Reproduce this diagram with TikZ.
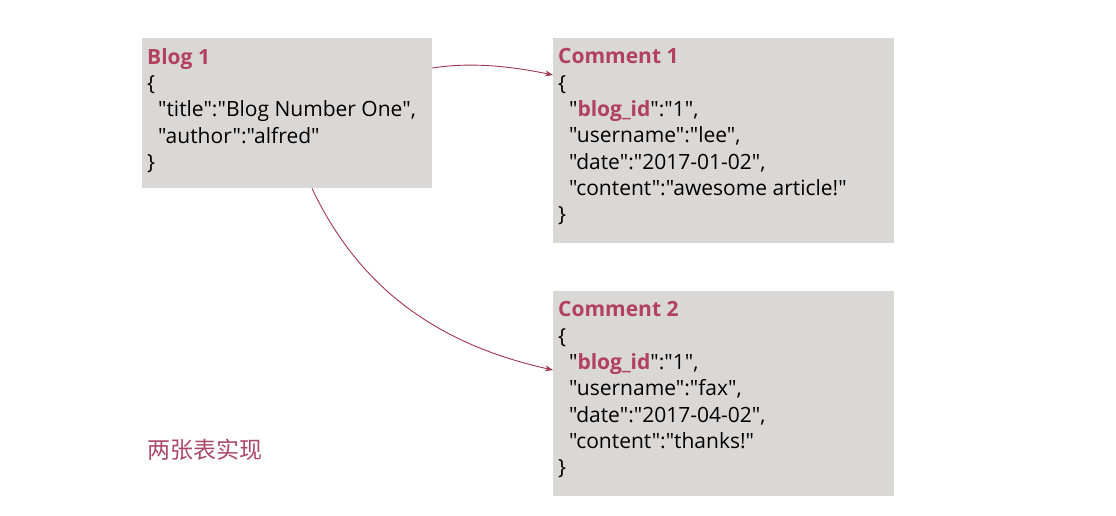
\documentclass[tikz,border=0pt]{standalone}
\usepackage{fontspec}
\setmainfont{Open Sans}[Ligatures=TeXOff]
\newfontfamily\cjk{Noto Sans CJK SC}
\usetikzlibrary{arrows.meta,calc}
\definecolor{boxgray}{HTML}{D9D8D6}
\definecolor{titlered}{HTML}{B2405F}
\definecolor{arrowred}{HTML}{A33650}
\definecolor{cjkred}{HTML}{AA4866}
\newcommand{\hl}[1]{\textbf{\textcolor{titlered}{#1}}}
\begin{document}
\begin{tikzpicture}[x=1pt,y=-1pt,
  box/.style={fill=boxgray,draw=none,inner sep=0pt,anchor=north west},
  txt/.style={anchor=north west,inner sep=0pt,align=left,font=\fontsize{21}{26.3}\selectfont},
  conn/.style={draw=arrowred,line width=0.9pt,-{Stealth[length=8pt,width=6pt]}}]
\useasboundingbox[fill=white] (0,0) rectangle (1116,516);
\node[box,minimum width=290pt,minimum height=150pt] (blog) at (142,38) {};
\node[box,minimum width=341pt,minimum height=205pt] (c1) at (553,38) {};
\node[box,minimum width=341pt,minimum height=205pt] (c2) at (553,291) {};
\node[txt] (blogtxt) at (147,48) {\hl{Blog 1}\\\{\\\ \ "title":"Blog Number One",\\\ \ "author":"alfred"\\\}};
\node[txt] (c1txt) at (558,48.5) {\hl{Comment 1}\\\{\\\ \ "\hl{blog\_id}":"1",\\\ \ "username":"lee",\\\ \ "date":"2017-01-02",\\\ \ "content":"awesome article!"\\\}};
\node[txt] (c2txt) at (558,301.5) {\hl{Comment 2}\\\{\\\ \ "\hl{blog\_id}":"1",\\\ \ "username":"fax",\\\ \ "date":"2017-04-02",\\\ \ "content":"thanks!"\\\}};
\node[anchor=north west,inner sep=0pt,text=cjkred,font=\cjk\fontsize{23}{26}\selectfont] (note) at (147,439) {两张表实现};
\coordinate (a1s) at ($(blog.north east)+(0,30)$);
\coordinate (a1e) at ($(c1.north west)+(0,37)$);
\coordinate (a2s) at ($(blog.south west)+(170,0)$);
\coordinate (a2e) at ($(c2.north west)+(0,79)$);
\draw[conn] (a1s) .. controls (470,62) and (510,66) .. (a1e);
\draw[conn] (a2s) .. controls (360,290) and (440,345) .. (a2e);
\end{tikzpicture}
\end{document}
